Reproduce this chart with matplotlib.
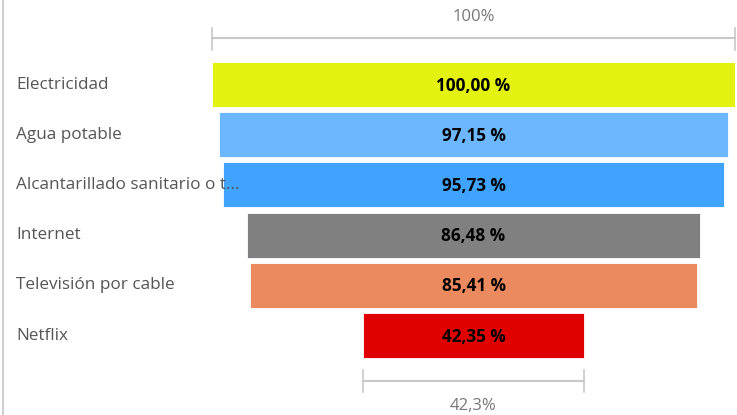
import matplotlib
matplotlib.use("Agg")
import matplotlib.pyplot as plt

categories = ["Electricidad", "Agua potable", "Alcantarillado sanitario o t...",
              "Internet", "Televisión por cable", "Netflix"]
values = [100.00, 97.15, 95.73, 86.48, 85.41, 42.35]
value_labels = ["100,00 %", "97,15 %", "95,73 %", "86,48 %", "85,41 %", "42,35 %"]
colors = ["#E3F20F", "#6CB7FF", "#3FA3FF", "#808080", "#EB895F", "#E00000"]
top_label = "100%"
bottom_label = "42,3%"

W, H = 737, 415
fig = plt.figure(figsize=(W / 100, H / 100), dpi=100)
ax = fig.add_axes([0, 0, 1, 1])

cx = 473.5
scale = 5.23
row0 = 84.5
step = 50.2
ax.set_xlim(-cx / scale, (W - cx) / scale)
ax.set_ylim((H - row0) / step, -row0 / step)
ax.axis("off")

def py(p):
    return (p - row0) / step

def px(p):
    return (p - cx) / scale

for i, (v, c, lab) in enumerate(zip(values, colors, value_labels)):
    ax.barh(i, v, left=-v / 2, height=0.9, color=c, edgecolor="white",
            linewidth=0.6, zorder=2)
    ax.text(0, py(row0 + step * i + 1), lab, ha="center", va="center", fontsize=12.3,
            fontweight="bold", color="black", family="Open Sans", zorder=4)
    ax.text(px(16.5), py(row0 + step * i), categories[i], ha="left", va="center", fontsize=12.3,
            color="#555555", family="Open Sans", zorder=4)

gc = "#C8C8C8"
# top axis
v0 = values[0]
ax.plot([-v0 / 2, v0 / 2], [py(38), py(38)], color=gc, lw=1.5, zorder=1)
for s in (-1, 1):
    ax.plot([s * v0 / 2] * 2, [py(28), py(50)], color=gc, lw=1.2, zorder=1)
ax.text(0, py(17), top_label, ha="center", va="center", fontsize=12,
        color="#777777", family="Open Sans")
# bottom axis
vn = values[-1]
ax.plot([-vn / 2, vn / 2], [py(381), py(381)], color=gc, lw=1.5, zorder=1)
for s in (-1, 1):
    ax.plot([s * vn / 2] * 2, [py(370), py(392)], color=gc, lw=1.2, zorder=1)
ax.text(0, py(406), bottom_label, ha="center", va="center", fontsize=12,
        color="#777777", family="Open Sans")

# left border line
ax.plot([px(3), px(3)], [py(0), py(415)], color="#D0D0D0", lw=1.5, zorder=1)

fig.savefig("out.png", dpi=100)
